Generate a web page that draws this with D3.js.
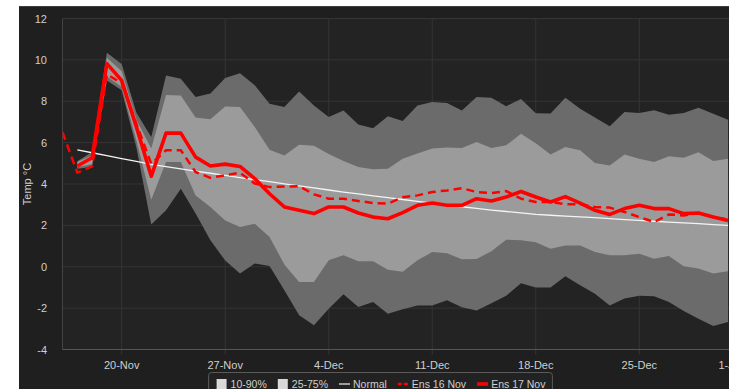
<!DOCTYPE html>
<html>
<head>
<meta charset="utf-8">
<script src="https://cdn.jsdelivr.net/npm/d3@7"></script>
<style>
  html, body { margin: 0; padding: 0; background: #fff; }
  svg { display: block; font-family: "Liberation Sans", Arial, sans-serif; }
</style>
</head>
<body>
<svg id="chart"></svg>
<script>
// ensemble run from 16 Nov (starts on 16 Nov)
const ens16 = [6.5, 4.55, 4.85, 9.3, 8.88, 6.9, 4.98, 5.63, 5.63, 4.58, 4.3, 4.42, 4.55, 4.02, 3.85, 3.88,
  3.89, 3.5, 3.29, 3.29, 3.18, 3.08, 3.05, 3.36, 3.45, 3.61, 3.69, 3.8, 3.61, 3.56, 3.66, 3.29,
  3.13, 3.13, 3.02, 3.02, 2.89, 2.86, 2.65, 2.4, 2.16, 2.53, 2.48, 2.6, 2.4, 2.28];

// everything below starts on 17 Nov
const ens17 = [4.87, 5.27, 9.82, 9.01, 6.75, 4.37, 6.46, 6.46, 5.3, 4.87, 4.96, 4.85, 4.26, 3.53, 2.89,
  2.73, 2.57, 2.89, 2.89, 2.6, 2.4, 2.32, 2.62, 2.97, 3.08, 2.97, 2.97, 3.29, 3.18, 3.37, 3.64,
  3.37, 3.13, 3.39, 3.08, 2.73, 2.53, 2.81, 2.97, 2.81, 2.81, 2.57, 2.6, 2.4, 2.24];

const p90 = [5.1, 5.55, 10.35, 9.8, 7.45, 6.27, 9.25, 9.09, 8.2, 8.38, 9.12, 9.35, 8.77, 7.88, 7.72,
  8.47, 7.8, 7.24, 7.55, 6.88, 6.69, 7.28, 7.04, 7.8, 7.96, 7.91, 7.55, 8.2, 8.17, 7.76, 8.11,
  7.42, 7.41, 8.17, 7.64, 7.21, 6.79, 7.48, 7.43, 7.56, 7.35, 7.43, 7.69, 7.4, 7.11];
const p75 = [5.06, 5.38, 10.1, 9.45, 7.1, 5.71, 8.3, 8.28, 7.22, 7.13, 7.75, 7.72, 6.75, 5.66, 5.38,
  5.9, 5.85, 5.45, 5.11, 4.82, 4.71, 4.74, 5.22, 5.47, 5.71, 5.76, 5.74, 6.03, 5.74, 5.87, 6.43,
  5.97, 5.42, 5.79, 5.63, 5.01, 4.9, 5.43, 5.22, 5.06, 5.34, 5.27, 5.54, 5.11, 5.22];
const p25 = [4.82, 4.95, 9.2, 8.7, 6.1, 3.24, 5.06, 5.06, 3.45, 2.89, 2.23, 1.92, 2.08, 1.44, 0.11,
  -0.74, -0.74, 0.31, 0.56, 0.26, 0.26, -0.15, -0.24, 0.31, 0.71, 0.65, 0.36, 0.38, 0.75, 1.31, 1.28,
  1.19, 0.87, 1.03, 1.03, 0.71, 0.55, 0.55, 0.63, 0.39, 0.52, 0.02, -0.09, -0.33, -0.22];
const p10 = [4.74, 4.82, 9.0, 8.53, 5.75, 2.04, 2.73, 3.77, 2.57, 1.28, 0.3, -0.33, 0.16, 0.04, -1.14,
  -2.35, -2.83, -2.03, -1.33, -1.95, -1.7, -2.27, -2.05, -1.87, -1.87, -1.62, -1.96, -2.11, -1.77, -1.4, -0.8,
  -1.0, -1.0, -0.46, -0.9, -1.3, -1.87, -1.54, -1.4, -1.43, -1.7, -2.14, -2.51, -2.87, -2.67];

const normal = [5.65, 5.51, 5.37, 5.23, 5.09, 4.95, 4.84, 4.73, 4.62, 4.52, 4.42, 4.31, 4.21, 4.11, 4.01,
  3.91, 3.81, 3.71, 3.61, 3.52, 3.43, 3.34, 3.25, 3.16, 3.07, 2.98, 2.9, 2.82, 2.74, 2.67, 2.6,
  2.53, 2.49, 2.45, 2.41, 2.37, 2.33, 2.28, 2.24, 2.2, 2.16, 2.12, 2.08, 2.04, 2.0];

const tickLabels = ['20-Nov', '27-Nov', '4-Dec', '11-Dec', '18-Dec', '25-Dec', '1-Jan'];
const yTicks = [-4, -2, 0, 2, 4, 6, 8, 10, 12];

const W = 729, H = 389;
const start16 = Date.UTC(2024, 10, 16);
const start17 = Date.UTC(2024, 10, 17);
const dayAt = (start, i) => new Date(start + i * 864e5);
const parseTick = l => d3.utcParse('%d-%b-%Y')(l + (l.endsWith('Jan') ? '-2025' : '-2024'));

const svg = d3.select('#chart').attr('width', W).attr('height', H);

const plotL = 62.5, plotT = 18.5, plotB = 349.5;
const x = d3.scaleUtc()
  .domain([dayAt(start16, 0), dayAt(start16, 47)])
  .range([plotL, plotL + 47 * 14.79]);
const y = d3.scaleLinear().domain([-4, 12]).range([plotB, plotT]);
const plotR = x.range()[1];

// chart background
svg.append('rect').attr('x', 19).attr('y', 6).attr('width', W - 19).attr('height', H - 6).attr('fill', '#1f1f1f');
svg.append('line').attr('x1', 19).attr('x2', W).attr('y1', 6.5).attr('y2', 6.5).attr('stroke', '#3e3e3e');
svg.append('rect').attr('x', plotL).attr('y', plotT).attr('width', plotR - plotL).attr('height', plotB - plotT).attr('fill', '#232323');

// grid
svg.append('g').selectAll('line').data(yTicks).join('line')
  .attr('x1', plotL).attr('x2', plotR)
  .attr('y1', d => y(d)).attr('y2', d => y(d))
  .attr('stroke', '#353535');
const tickDates = tickLabels.map(parseTick);
svg.append('g').selectAll('line').data(tickDates).join('line')
  .attr('x1', d => x(d)).attr('x2', d => x(d))
  .attr('y1', plotT).attr('y2', plotB + 5)
  .attr('stroke', '#353535');
svg.append('line').attr('x1', plotL).attr('x2', plotL).attr('y1', plotT).attr('y2', plotB).attr('stroke', '#444');
svg.append('line').attr('x1', plotL).attr('x2', plotR).attr('y1', plotB).attr('y2', plotB).attr('stroke', '#555');

// y labels
svg.append('g').selectAll('text').data(yTicks).join('text')
  .attr('x', 47).attr('y', d => y(d) + 4)
  .attr('text-anchor', 'end')
  .attr('fill', '#cfcfcf').style('font-size', '11px')
  .text(d => d);
svg.append('text')
  .attr('transform', `translate(31,${(plotT + plotB) / 2}) rotate(-90)`)
  .attr('text-anchor', 'middle')
  .attr('fill', '#cfcfcf').style('font-size', '11px')
  .text('Temp °C');

// x labels (last one is pushed in against the chart's right edge, like the original)
const chartRight = 746;
svg.append('g').selectAll('text').data(tickDates).join('text')
  .attr('y', 369)
  .attr('fill', '#cfcfcf').style('font-size', '11px')
  .text((d, i) => tickLabels[i])
  .each(function (d) {
    const w = this.getComputedTextLength();
    const cx = Math.min(x(d), chartRight - w / 2);
    d3.select(this).attr('x', cx).attr('text-anchor', 'middle');
  });

// series
svg.append('clipPath').attr('id', 'clip').append('rect')
  .attr('x', plotL).attr('y', plotT).attr('width', plotR - plotL).attr('height', plotB - plotT);
const g = svg.append('g').attr('clip-path', 'url(#clip)');

const bandIdx = d3.range(p90.length);
const outer = d3.area().x(i => x(dayAt(start17, i))).y0(i => y(p10[i])).y1(i => y(p90[i]));
const inner = d3.area().x(i => x(dayAt(start17, i))).y0(i => y(p25[i])).y1(i => y(p75[i]));
g.append('path').datum(bandIdx).attr('d', outer).attr('fill', '#6b6b6b');
g.append('path').datum(bandIdx).attr('d', inner).attr('fill', '#9b9b9b');

const line17 = d3.line().x((d, i) => x(dayAt(start17, i))).y(d => y(d));
const line16 = d3.line().x((d, i) => x(dayAt(start16, i))).y(d => y(d));

g.append('path').datum(normal).attr('d', line17)
  .attr('fill', 'none').attr('stroke', '#f4f4f4').attr('stroke-width', 1.3);
g.append('path').datum(ens16).attr('d', line16)
  .attr('fill', 'none').attr('stroke', '#ff0000').attr('stroke-width', 2.5)
  .attr('stroke-dasharray', '8,5').attr('stroke-linejoin', 'round');
g.append('path').datum(ens17).attr('d', line17)
  .attr('fill', 'none').attr('stroke', '#ff0000').attr('stroke-width', 3.6)
  .attr('stroke-linejoin', 'round');

// legend
const legendItems = [
  { label: '10-90%', kind: 'box' },
  { label: '25-75%', kind: 'box' },
  { label: 'Normal', kind: 'normal' },
  { label: 'Ens 16 Nov', kind: 'dash' },
  { label: 'Ens 17 Nov', kind: 'solid' }
];
const lg = svg.append('g');
const box = lg.append('rect').attr('y', 372.5).attr('height', 30).attr('rx', 3)
  .attr('fill', '#222').attr('stroke', '#5a5a5a');
let lx = 0;
legendItems.forEach(it => {
  const item = lg.append('g').attr('transform', `translate(${lx},0)`);
  if (it.kind === 'box') {
    item.append('rect').attr('x', 0).attr('y', 379).attr('width', 10).attr('height', 10).attr('fill', '#d9d9d9');
  } else {
    item.append('line').attr('x1', 0).attr('x2', 11).attr('y1', 384).attr('y2', 384)
      .attr('stroke', it.kind === 'normal' ? '#e0e0e0' : '#ff0000')
      .attr('stroke-width', it.kind === 'normal' ? 1.3 : it.kind === 'dash' ? 2.5 : 3.6)
      .attr('stroke-dasharray', it.kind === 'dash' ? '4,2' : null);
  }
  const t = item.append('text').attr('x', 14).attr('y', 388)
    .attr('fill', '#cfcfcf').style('font-size', '10.5px').text(it.label);
  lx += 14 + t.node().getComputedTextLength() + 11;
});
const legendW = lx - 11;
const legendLeft = 381 - legendW / 2;
lg.attr('transform', `translate(${legendLeft},0)`);
box.attr('x', -8).attr('width', legendW + 15);
</script>
</body>
</html>
